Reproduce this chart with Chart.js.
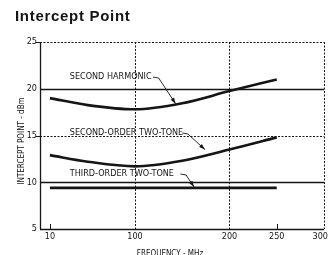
<!DOCTYPE html>
<html>
<head>
<meta charset="utf-8">
<script src="https://cdn.jsdelivr.net/npm/chart.js@4.4.1/dist/chart.umd.min.js"></script>
<style>
  html, body { margin: 0; padding: 0; background: #fff; }
  #wrap { position: relative; width: 328px; height: 255px; }
</style>
</head>
<body>
<div id="wrap"><canvas id="interceptChart" width="328" height="255"></canvas></div>
<script>
// Values
const freqMHz = [10, 50, 100, 150, 200, 250];
const secondHarmonic = [19.0, 18.25, 17.8, 18.45, 19.75, 21.0];
const secondOrderTwoTone = [12.9, 12.2, 11.7, 12.3, 13.5, 14.8];
const thirdOrderTwoTone = [9.4, 9.4, 9.4, 9.4, 9.4, 9.4];

const xTickValues = [10, 100, 200, 250, 300];
const yTickValues = [5, 10, 15, 20, 25];

const chartTitle = 'Intercept Point';
const xAxisTitle = 'FREQUENCY - MHz';
const yAxisTitle = 'INTERCEPT POINT - dBm';

// Curve labels with their leader lines (data coordinates)
const curveLabels = [
    { text: 'SECOND HARMONIC', at: [31, 21.25], leader: [[119, 21.25], [125, 21.15], [143, 18.4]] },
    { text: 'SECOND-ORDER TWO-TONE', at: [31, 15.27], leader: [[150, 15.27], [156, 15.16], [174, 13.5]] },
    { text: 'THIRD-ORDER TWO-TONE', at: [31, 10.88], leader: [[148, 10.88], [154, 10.78], [162.5, 9.5]] }
];

const condensed = "'Liberation Sans Narrow', 'DejaVu Sans Condensed', 'Arial Narrow', sans-serif";
const ink = '#151515';

function line(ctx, x1, y1, x2, y2, width, dash) {
    ctx.save();
    ctx.beginPath();
    ctx.lineWidth = width;
    ctx.strokeStyle = ink;
    ctx.setLineDash(dash || []);
    ctx.moveTo(x1, y1);
    ctx.lineTo(x2, y2);
    ctx.stroke();
    ctx.restore();
}

// Draws the old datasheet style frame, grid and text
const gridPlugin = {
    id: 'sheetGrid',
    beforeDatasetsDraw(chart) {
        const { ctx, chartArea: a, scales: { x, y } } = chart;
        const dotted = [2, 1.5];
        yTickValues.forEach(v => {
            const py = Math.round(y.getPixelForValue(v)) + 0.5;
            const solid = v === 5 || v === 10 || v === 20;
            line(ctx, a.left, py, a.right, py, solid ? 1.3 : 1, solid ? [] : dotted);
            if (!solid) line(ctx, a.left - 4, py, a.left, py, 1);
        });
        xTickValues.forEach(v => {
            const px = Math.round(x.getPixelForValue(v)) + 0.5;
            if (v === 100 || v === 200 || v === 300) {
                line(ctx, px, a.top, px, a.bottom, 1, dotted);
            } else {
                line(ctx, px, a.bottom - 5, px, a.bottom, 1);
            }
        });
        line(ctx, a.left + 0.5, a.top, a.left + 0.5, a.bottom, 1.3);
    },
    afterDatasetsDraw(chart) {
        const { ctx, chartArea: a, scales: { x, y } } = chart;
        ctx.save();
        ctx.fillStyle = ink;
        ctx.strokeStyle = ink;

        // curve labels + arrows
        ctx.font = '9px ' + condensed;
        ctx.textBaseline = 'middle';
        ctx.textAlign = 'left';
        curveLabels.forEach(lbl => {
            ctx.fillText(lbl.text, x.getPixelForValue(lbl.at[0]), y.getPixelForValue(lbl.at[1]));
            const pts = lbl.leader.map(p => [x.getPixelForValue(p[0]), y.getPixelForValue(p[1])]);
            ctx.beginPath();
            ctx.lineWidth = 0.9;
            ctx.moveTo(pts[0][0], pts[0][1]);
            ctx.lineTo(pts[1][0], pts[1][1]);
            ctx.lineTo(pts[2][0], pts[2][1]);
            ctx.stroke();
            const dx = pts[2][0] - pts[1][0], dy = pts[2][1] - pts[1][1];
            const len = Math.hypot(dx, dy), ux = dx / len, uy = dy / len;
            const tip = pts[2];
            ctx.beginPath();
            ctx.moveTo(tip[0], tip[1]);
            ctx.lineTo(tip[0] - ux * 6 - uy * 2, tip[1] - uy * 6 + ux * 2);
            ctx.lineTo(tip[0] - ux * 6 + uy * 2, tip[1] - uy * 6 - ux * 2);
            ctx.closePath();
            ctx.fill();
        });

        // x tick labels (last one kept inside the page like the original)
        ctx.font = '9px ' + condensed;
        ctx.textBaseline = 'top';
        xTickValues.forEach((v, i) => {
            const last = i === xTickValues.length - 1;
            ctx.textAlign = last ? 'right' : 'center';
            const px = x.getPixelForValue(v);
            ctx.fillText(String(v), last ? px + 4 : px, a.bottom + 3);
        });

        // title
        ctx.font = 'bold 15px "Liberation Sans", Arial, sans-serif';
        ctx.letterSpacing = '0.7px';
        ctx.textAlign = 'left';
        ctx.textBaseline = 'alphabetic';
        ctx.fillText(chartTitle, 15, 21);
        ctx.letterSpacing = '0px';

        // axis titles
        ctx.font = '8px ' + condensed;
        ctx.textAlign = 'center';
        ctx.textBaseline = 'middle';
        ctx.fillText(xAxisTitle, 170, 254);
        ctx.save();
        ctx.translate(22, 141);
        ctx.rotate(-Math.PI / 2);
        ctx.fillText(yAxisTitle, 0, 0);
        ctx.restore();
        ctx.restore();
    }
};

const curveStyle = {
    borderColor: ink,
    borderWidth: 2.6,
    pointRadius: 0,
    fill: false,
    cubicInterpolationMode: 'monotone'
};

const ctx = document.getElementById('interceptChart').getContext('2d');
const interceptChart = new Chart(ctx, {
    type: 'line',
    data: {
        datasets: [
            { label: 'Second Harmonic', data: freqMHz.map((f, i) => ({ x: f, y: secondHarmonic[i] })), ...curveStyle },
            { label: 'Second-Order Two-Tone', data: freqMHz.map((f, i) => ({ x: f, y: secondOrderTwoTone[i] })), ...curveStyle },
            { label: 'Third-Order Two-Tone', data: freqMHz.map((f, i) => ({ x: f, y: thirdOrderTwoTone[i] })), ...curveStyle }
        ]
    },
    options: {
        responsive: false,
        animation: false,
        layout: { padding: { top: 42, right: 4, left: 0, bottom: 0 } },
        plugins: {
            legend: { display: false },
            tooltip: { enabled: false }
        },
        scales: {
            x: {
                type: 'linear',
                min: -0.5,
                max: 300,
                afterBuildTicks: s => { s.ticks = xTickValues.map(v => ({ value: v })); },
                afterFit: s => { s.height = 26; s.paddingLeft = 0; s.paddingRight = 0; },
                grid: { display: false, drawTicks: false },
                border: { display: false },
                ticks: { display: false }
            },
            y: {
                min: 5,
                max: 25,
                afterBuildTicks: s => { s.ticks = yTickValues.map(v => ({ value: v })); },
                afterFit: s => { s.width = 40; s.paddingTop = 0; s.paddingBottom = 0; },
                grid: { display: false, drawTicks: false },
                border: { display: false },
                ticks: {
                    padding: 3,
                    color: ink,
                    font: { family: condensed, size: 9 }
                }
            }
        }
    },
    plugins: [gridPlugin]
});
</script>
</body>
</html>
